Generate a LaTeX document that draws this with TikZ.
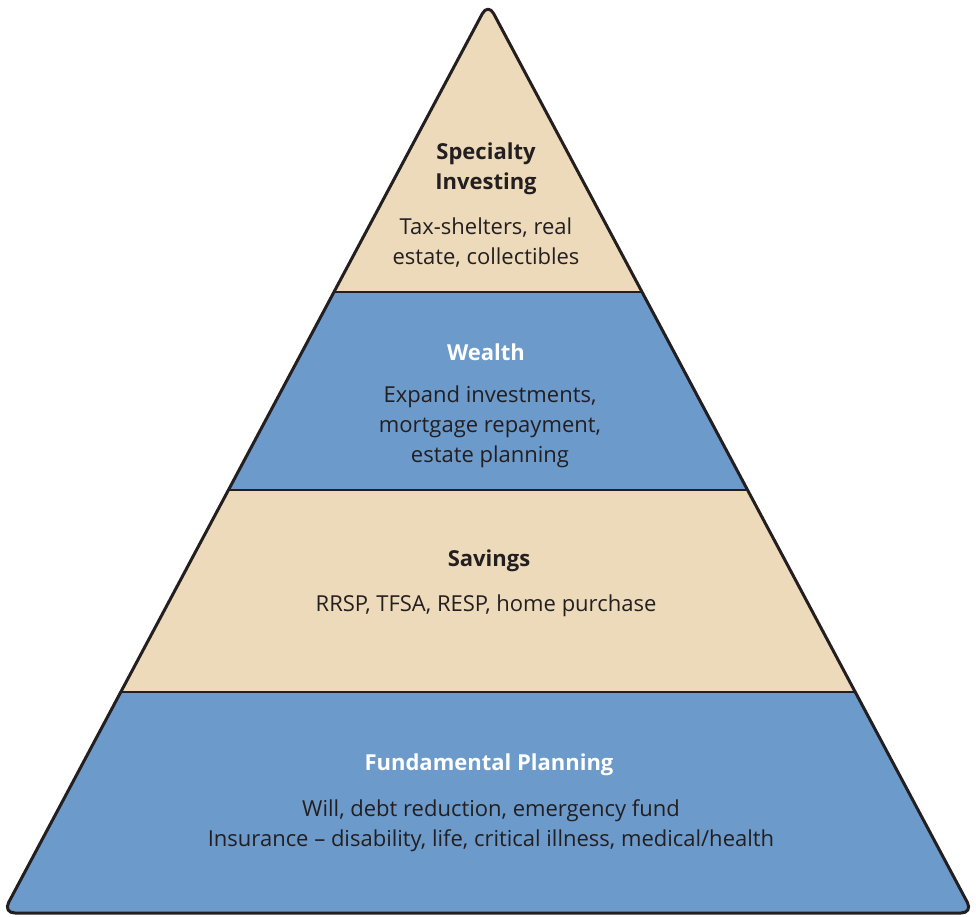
\documentclass[tikz,border=0pt]{standalone}
\usepackage{fontspec}
\setmainfont{Open Sans}
\usetikzlibrary{calc}
\definecolor{beige}{HTML}{EDDABA}
\definecolor{blueL}{HTML}{6C9ACB}
\definecolor{ink}{HTML}{231F20}
\tikzset{
  txt/.style={align=center, text=ink, inner sep=0pt, font=\fontsize{22}{30}\selectfont},
  hdark/.style={align=center, text=ink, inner sep=0pt, font=\fontsize{22}{30}\selectfont\bfseries},
  hlight/.style={align=center, text=white, inner sep=0pt, font=\fontsize{22}{30}\selectfont\bfseries},
  divider/.style={draw=ink, line width=2pt},
  outline/.style={draw=ink, line width=3pt, rounded corners=12pt, line join=round}
}
\begin{document}
\begin{tikzpicture}[x=1pt,y=-1pt]
\useasboundingbox (0,0) rectangle (976,916);
\coordinate (A) at (488,3);
\coordinate (L) at (3,913);
\coordinate (R) at (973,913);
\coordinate (l1) at ($(A)!0.31758!(L)$);
\coordinate (r1) at ($(A)!0.31758!(R)$);
\coordinate (l2) at ($(A)!0.53516!(L)$);
\coordinate (r2) at ($(A)!0.53516!(R)$);
\coordinate (l3) at ($(A)!0.75714!(L)$);
\coordinate (r3) at ($(A)!0.75714!(R)$);
\begin{scope}
  \clip[rounded corners=12pt] (A) -- (R) -- (L) -- cycle;
  \fill[beige] (0,0) rectangle (976,292);
  \fill[blueL] (0,292) rectangle (976,490);
  \fill[beige] (0,490) rectangle (976,692);
  \fill[blueL] (0,692) rectangle (976,916);
\end{scope}
\draw[divider] (l1) -- (r1);
\draw[divider] (l2) -- (r2);
\draw[divider] (l3) -- (r3);
\draw[outline] (A) -- (R) -- (L) -- cycle;
\node[hdark] (h1) at (486,169) {Specialty\\Investing};
\node[txt] (t1) at (486,243) {Tax-shelters, real\\estate, collectibles};
\node[hlight] (h2) at (486,352) {Wealth};
\node[txt] (t2) at (490,427) {Expand investments,\\mortgage repayment,\\estate planning};
\node[hdark] (h3) at (489,561) {Savings};
\node[txt] (t3) at (486,606) {RRSP, TFSA, RESP, home purchase};
\node[hlight] (h4) at (489,765) {Fundamental Planning};
\node[txt] (t4) at (491,826) {Will, debt reduction, emergency fund\\Insurance -- disability, life, critical illness, medical/health};
\end{tikzpicture}
\end{document}
